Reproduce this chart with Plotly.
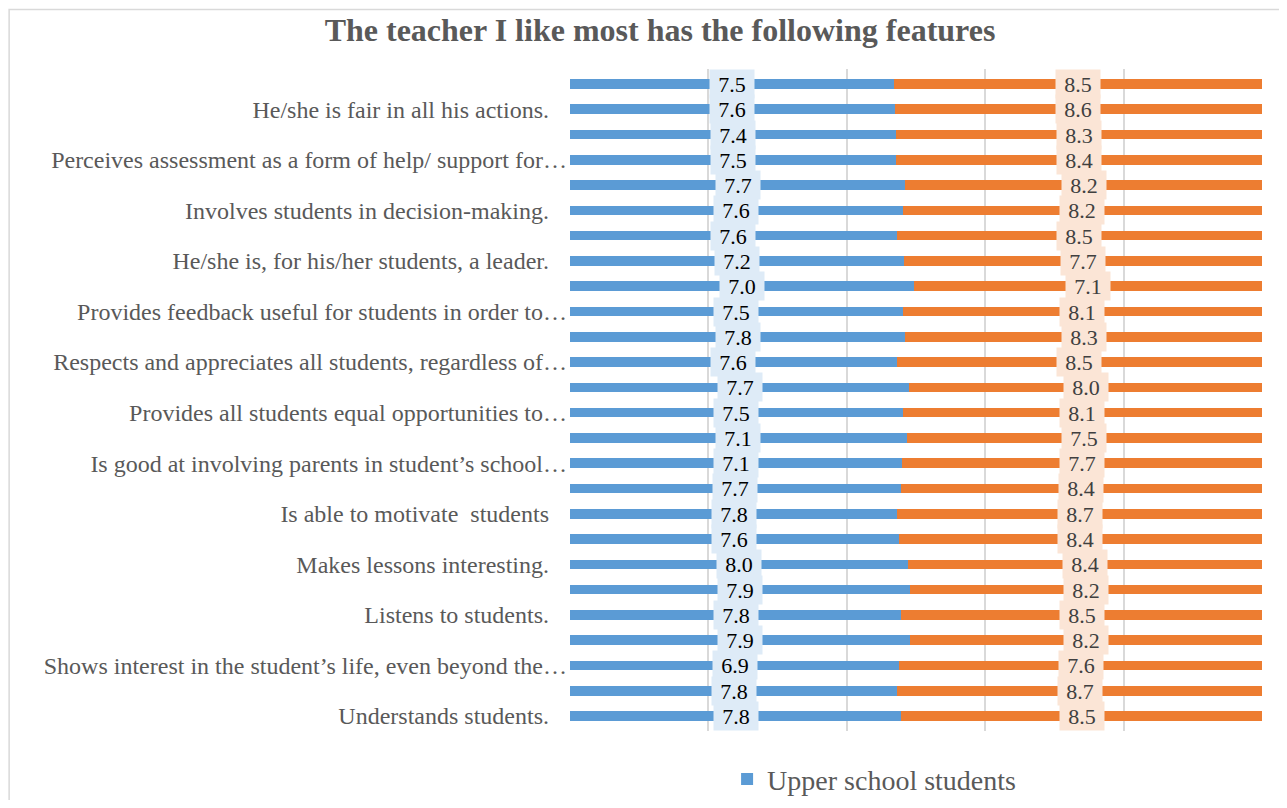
import plotly.graph_objects as go

# Items from top to bottom; Excel only prints every second label
labels = [
    "",
    "He/she is fair in all his actions.",
    "",
    "Perceives assessment as a form of help/ support for…",
    "",
    "Involves students in decision-making.",
    "",
    "He/she is, for his/her students, a leader.",
    "",
    "Provides feedback useful for students in order to…",
    "",
    "Respects and appreciates all students, regardless of…",
    "",
    "Provides all students equal opportunities to…",
    "",
    "Is good at involving parents in student’s school…",
    "",
    "Is able to motivate  students",
    "",
    "Makes lessons interesting.",
    "",
    "Listens to students.",
    "",
    "Shows interest in the student’s life, even beyond the…",
    "",
    "Understands students.",
]

upper = [7.5, 7.6, 7.4, 7.5, 7.7, 7.6, 7.6, 7.2, 7.0, 7.5, 7.8, 7.6, 7.7,
         7.5, 7.1, 7.1, 7.7, 7.8, 7.6, 8.0, 7.9, 7.8, 7.9, 6.9, 7.8, 7.8]
lower = [8.5, 8.6, 8.3, 8.4, 8.2, 8.2, 8.5, 7.7, 7.1, 8.1, 8.3, 8.5, 8.0,
         8.1, 7.5, 7.7, 8.4, 8.7, 8.4, 8.4, 8.2, 8.5, 8.2, 7.6, 8.7, 8.5]

BLUE = "#5B9BD5"
ORANGE = "#ED7D31"
FONT = "Liberation Serif, Times New Roman, serif"

rows = list(range(len(labels)))

# pad the untruncated labels a little, like the trailing spaces in the source
ticktext = [t if t.endswith("…") else t + "\u00a0\u00a0\u00a0" for t in labels]
tickvals = [i for i, t in enumerate(labels) if t]
ticktext = [ticktext[i] for i in tickvals]

fig = go.Figure()
fig.add_trace(go.Bar(
    y=rows, x=upper, orientation="h", name="Upper school students",
    marker=dict(color=BLUE, line=dict(width=0)),
))
fig.add_trace(go.Bar(
    y=rows, x=lower, orientation="h", name="Lower school students",
    marker=dict(color=ORANGE, line=dict(width=0)), showlegend=False,
))

# value labels with Excel-style filled boxes, centred in each segment
for i, (u, l) in enumerate(zip(upper, lower)):
    share = u / (u + l) * 100
    fig.add_annotation(x=share / 2, y=i, xref="x", yref="y", text=f"{u:.1f}",
                       showarrow=False, bgcolor="#DEEBF7", borderpad=2,
                       width=40, height=24,
                       font=dict(family=FONT, size=22, color="#000000"))
    fig.add_annotation(x=share + (100 - share) / 2, y=i, xref="x", yref="y",
                       text=f"{l:.1f}", showarrow=False, bgcolor="#FBE5D6",
                       borderpad=2, width=40, height=24,
                       font=dict(family=FONT, size=22, color="#404040"))

# light outer chart border
fig.add_shape(type="rect", xref="paper", yref="paper", x0=-0.8105, x1=1.2,
              y0=-0.3, y1=1.0900, line=dict(color="#D9D9D9", width=1.5),
              layer="below")

fig.update_layout(
    barmode="stack",
    barnorm="percent",
    bargap=0.62,
    width=1271,
    height=792,
    title=dict(
        text="<b>The teacher I like most has the following features</b>",
        x=0.513, xanchor="center", y=0.972, yanchor="middle",
        font=dict(family=FONT, size=32, color="#595959"),
    ),
    font=dict(family=FONT, size=24, color="#595959"),
    plot_bgcolor="white",
    paper_bgcolor="white",
    margin=dict(l=562, r=17, t=61, b=69, autoexpand=False),
    xaxis=dict(range=[0, 100], dtick=20, showticklabels=False,
               showgrid=True, gridcolor="#D9D9D9", gridwidth=1.5,
               zeroline=False, showline=False, fixedrange=True),
    yaxis=dict(tickmode="array", tickvals=tickvals, ticktext=ticktext,
               autorange="reversed", showgrid=False,
               zeroline=False, ticks="", ticklabelstandoff=2,
               tickfont=dict(family=FONT, size=24, color="#595959")),
    legend=dict(orientation="h", x=0.227, xanchor="left",
                yref="container", y=0.026, yanchor="middle",
                font=dict(family=FONT, size=28, color="#595959"),
                itemwidth=30),
    showlegend=True,
)

fig.write_html("out.html")
